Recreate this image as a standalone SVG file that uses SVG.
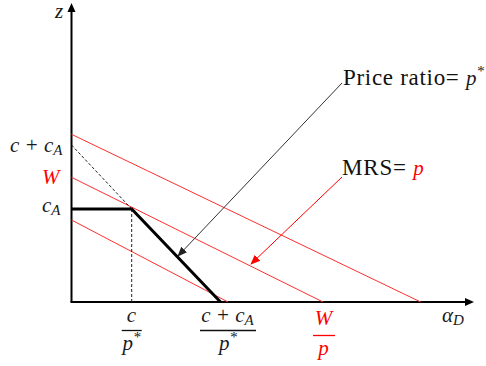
<svg xmlns="http://www.w3.org/2000/svg" width="486" height="366" viewBox="0 0 486 366">
<style>
.m{font-family:"Liberation Serif",serif;font-style:italic;font-size:21px;fill:#1a1a1a}
.r{fill:#ff0000}
.t{font-family:"Liberation Serif",serif;font-size:23px;fill:#111}
.sub{font-size:15px}
.red{stroke:#ff3030;stroke-width:1;fill:none}
.dash{stroke:#222;stroke-width:1;stroke-dasharray:3,2;fill:none}
.bar{stroke:#111;stroke-width:1.3}
</style>
<defs>
<marker id="ab" viewBox="0 0 10 10" refX="9" refY="5" markerWidth="10" markerHeight="10" markerUnits="userSpaceOnUse" orient="auto"><path d="M0,1 L10,5 L0,9 z" fill="#222"/></marker>
<marker id="ar" viewBox="0 0 10 10" refX="9" refY="5" markerWidth="10" markerHeight="10" markerUnits="userSpaceOnUse" orient="auto"><path d="M0,1 L10,5 L0,9 z" fill="#ff0000"/></marker>
</defs>
<rect width="486" height="366" fill="#fff"/>
<g id="axes">
<line x1="71.5" y1="302" x2="71.5" y2="10" stroke="#000" stroke-width="2"/>
<polygon points="71.5,3 67.5,12 75.5,12" fill="#000"/>
<line x1="70.5" y1="302" x2="466" y2="302" stroke="#000" stroke-width="2"/>
<polygon points="474,302 465,298 465,306" fill="#000"/>
</g>
<g id="connectors">
<line class="red" x1="71.5" y1="134.3" x2="420.7" y2="302"/>
<line class="red" x1="71.5" y1="177.3" x2="323" y2="302"/>
<line class="red" x1="71.5" y1="220" x2="228" y2="302"/>
<line class="dash" x1="71.5" y1="145" x2="131.7" y2="209"/>
<line class="dash" x1="131.7" y1="209" x2="131.7" y2="302"/>
<polyline points="71.5,209 131.7,209 220.5,302" fill="none" stroke="#000" stroke-width="3"/>
<line x1="342" y1="83" x2="178" y2="256" stroke="#333" stroke-width="1" marker-end="url(#ab)"/>
<line x1="342" y1="177" x2="251" y2="264" stroke="#ff0000" stroke-width="1" marker-end="url(#ar)"/>
</g>
<g id="labels">
<text class="m" x="55" y="18">z</text>
<text class="m" x="10" y="152">c + c<tspan class="sub" dy="3">A</tspan></text>
<text class="m r" x="42" y="184">W</text>
<text class="m" x="42" y="212">c<tspan class="sub" dy="3">A</tspan></text>
<text class="m" x="131.5" y="322" text-anchor="middle">c</text>
<line class="bar" x1="121.7" y1="330.5" x2="141.7" y2="330.5"/>
<text class="m" x="131.5" y="350" text-anchor="middle">p<tspan class="sub" dy="-8">*</tspan></text>
<text class="m" x="227.5" y="322" text-anchor="middle">c + c<tspan class="sub" dy="3">A</tspan></text>
<line class="bar" x1="200" y1="330.5" x2="256" y2="330.5"/>
<text class="m" x="228" y="350" text-anchor="middle">p<tspan class="sub" dy="-8">*</tspan></text>
<text class="m r" x="323.5" y="325" text-anchor="middle">W</text>
<line x1="313" y1="335.5" x2="335" y2="335.5" stroke="#ff0000" stroke-width="1.3"/>
<text class="m r" x="323.5" y="355" text-anchor="middle">p</text>
<text class="m" x="442" y="322">α<tspan class="sub" dy="3">D</tspan></text>
<text class="t" x="343" y="85" letter-spacing="0.7">Price ratio= <tspan class="m" font-size="23" letter-spacing="0">p</tspan><tspan class="m sub" dy="-9" letter-spacing="0">*</tspan></text>
<text class="t r" x="342" y="175" letter-spacing="0.8">MRS= <tspan class="m r" font-size="23" letter-spacing="0">p</tspan></text>
</g>
</svg>
